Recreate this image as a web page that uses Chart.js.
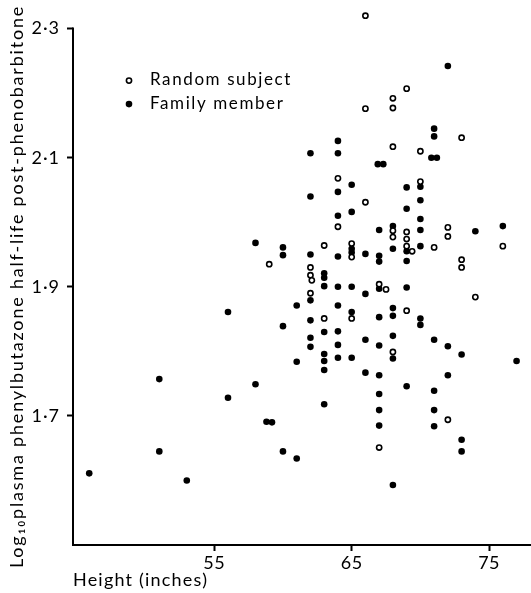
<!DOCTYPE html>
<html><head><meta charset="utf-8">
<script src="https://cdn.jsdelivr.net/npm/chart.js@4.4.1/dist/chart.umd.min.js"></script>
<style>html,body{margin:0;padding:0;background:#fff;}#wrap{width:531px;height:593px;}</style>
</head><body><div id="wrap"><canvas id="c" width="531" height="593"></canvas></div>
<script>
const X_TICKS = [55, 65, 75];
const X_TICK_LABELS = ['55', '65', '75'];
const Y_TICKS = [1.7, 1.9, 2.1, 2.3];
const Y_TICK_LABELS = ['1·7', '1·9', '2·1', '2·3'];
const X_TITLE = 'Height (inches)';
const Y_TITLE = 'Log₁₀plasma phenylbutazone half-life post-phenobarbitone';
const SERIES_NAMES = ['Random subject', 'Family member'];

// Random subjects (open circles)
const randomHeight = [59, 62, 62, 62.1, 62, 63, 63, 64, 64, 65, 65, 65, 66, 66, 66, 67, 67.5, 67,
  68, 68, 68, 68, 68, 68, 69, 69, 69, 69, 69.4, 69, 70, 70, 71, 72, 72, 72, 73, 73, 73, 74, 76];
const randomLogHalfLife = [1.935, 1.930, 1.918, 1.910, 1.890, 1.964, 1.851, 2.068, 1.993, 1.967, 1.946, 1.851, 2.320, 2.176, 2.031, 1.904, 1.896, 1.651,
  2.192, 2.177, 2.117, 1.987, 1.977, 1.799, 2.207, 1.985, 1.974, 1.963, 1.955, 1.863, 2.110, 2.063, 1.961, 1.992, 1.978, 1.694, 2.131, 1.942, 1.930, 1.884, 1.963];

// Family members (filled circles)
const familyHeight = [45.9, 51, 51, 53, 56, 56, 58, 58, 58.8, 59.2, 60, 60, 60, 60, 61, 61, 61,
  62, 62, 62, 62, 62, 62, 62,
  63, 63, 63, 63, 63, 63, 63, 63,
  64, 64, 64, 64, 64, 64, 64, 64, 64, 64,
  65, 65, 65, 65, 65, 65, 65,
  66, 66, 66, 66,
  66.9, 67.3, 67, 67, 67, 67, 67, 67, 67, 67, 67, 67,
  68, 68, 68, 68, 68, 68, 68,
  69, 69, 69, 69, 69, 69,
  70, 70, 70, 70, 70, 70, 70,
  71, 71, 70.8, 71.2, 71, 71, 71, 71,
  72, 72, 72,
  73, 73, 73,
  74, 76, 77];
const familyLogHalfLife = [1.611, 1.757, 1.645, 1.600, 1.861, 1.728, 1.968, 1.749, 1.691, 1.690, 1.961, 1.949, 1.839, 1.645, 1.871, 1.784, 1.634,
  2.107, 2.040, 1.950, 1.879, 1.848, 1.821, 1.807,
  1.921, 1.914, 1.901, 1.830, 1.796, 1.785, 1.771, 1.718,
  2.126, 2.107, 2.047, 2.010, 1.947, 1.900, 1.871, 1.831, 1.810, 1.790,
  2.058, 2.016, 1.959, 1.953, 1.900, 1.861, 1.790,
  1.951, 1.889, 1.818, 1.767,
  2.090, 2.090, 1.988, 1.948, 1.939, 1.897, 1.853, 1.809, 1.763, 1.734, 1.709, 1.685,
  1.994, 1.959, 1.867, 1.855, 1.824, 1.789, 1.593,
  2.054, 2.021, 1.955, 1.940, 1.899, 1.746,
  2.055, 2.034, 2.005, 1.988, 1.963, 1.851, 1.841,
  2.145, 2.133, 2.100, 2.100, 1.818, 1.739, 1.709, 1.684,
  2.242, 1.808, 1.763,
  1.795, 1.663, 1.645,
  1.986, 1.994, 1.785];

const FONT = 'Lato, "DejaVu Sans", sans-serif';
const toPts = (xs, ys) => xs.map((x, i) => ({x: x, y: ys[i]}));

// letter-spaced drawing for a scale's title and labels (title optionally shifted along the axis)
function spaceScale(s, titleSpacing, labelSpacing, titleShift) {
  if (s._spaced) return;
  s._spaced = true;
  const dt = s.drawTitle, dl = s.drawLabels;
  s.drawTitle = function () {
    const c = this.ctx; c.save(); c.letterSpacing = titleSpacing;
    c.translate(0, titleShift || 0);
    dt.apply(this, arguments); c.restore();
  };
  s.drawLabels = function () {
    const c = this.ctx; c.save(); c.letterSpacing = labelSpacing;
    dl.apply(this, arguments); c.restore();
  };
}

// y axis line runs from the top tick (2.3) to the bottom of the plot
const yAxisLine = {
  id: 'yAxisLine',
  afterDraw(chart) {
    const {ctx, chartArea, scales} = chart;
    const top = scales.y.getPixelForValue(Y_TICKS[Y_TICKS.length - 1]);
    ctx.save();
    ctx.strokeStyle = '#000';
    ctx.lineWidth = 2;
    ctx.beginPath();
    ctx.moveTo(chartArea.left, top - 1);
    ctx.lineTo(chartArea.left, chartArea.bottom + 1);
    ctx.stroke();
    ctx.restore();
  }
};

const legendPlugin = {
  id: 'insetLegend',
  afterDraw(chart) {
    const {ctx, chartArea, scales} = chart;
    const y0 = scales.y.getPixelForValue(Y_TICKS[Y_TICKS.length - 1]);
    ctx.save();
    ctx.letterSpacing = '1.6px';
    ctx.font = '17px ' + FONT;
    ctx.textBaseline = 'middle';
    ctx.textAlign = 'left';
    chart.data.datasets.forEach((ds, i) => {
      const mx = chartArea.left + 56, my = y0 + 52 + i * 23.5;
      ctx.beginPath();
      ctx.arc(mx, my, ds.pointRadius, 0, Math.PI * 2);
      ctx.fillStyle = ds.pointBackgroundColor;
      ctx.fill();
      if (ds.pointBorderWidth) {
        ctx.lineWidth = ds.pointBorderWidth;
        ctx.strokeStyle = ds.pointBorderColor;
        ctx.stroke();
      }
      ctx.fillStyle = '#000';
      ctx.fillText(ds.label, chartArea.left + 77, my - 1);
    });
    ctx.restore();
  }
};

new Chart(document.getElementById('c'), {
  type: 'scatter',
  data: {
    datasets: [
      {label: SERIES_NAMES[0], data: toPts(randomHeight, randomLogHalfLife),
       pointRadius: 2.6, pointBorderWidth: 1.6, pointBackgroundColor: '#fff', pointBorderColor: '#000'},
      {label: SERIES_NAMES[1], data: toPts(familyHeight, familyLogHalfLife),
       pointRadius: 3.3, pointBorderWidth: 0, pointBackgroundColor: '#000', pointBorderColor: '#000'}
    ]
  },
  options: {
    responsive: false,
    animation: false,
    events: [],
    layout: {autoPadding: false, padding: {top: 6, left: 0, right: 0, bottom: 0}},
    plugins: {legend: {display: false}, tooltip: {enabled: false}},
    scales: {
      x: {
        type: 'linear', min: 44.72, max: 78.05,
        afterFit(s) { s.height = 48; s.paddingLeft = 0; s.paddingRight = 0; spaceScale(s, '1.2px', '0.5px', 0); },
        afterBuildTicks(s) { s.ticks = X_TICKS.map(v => ({value: v})); },
        ticks: {color: '#000', font: {family: FONT, size: 18}, padding: 1, maxRotation: 0,
          callback: (v) => X_TICK_LABELS[X_TICKS.indexOf(v)] ?? ''},
        grid: {drawOnChartArea: false, drawTicks: true, tickLength: 6, tickWidth: 2, tickColor: '#000'},
        border: {display: true, color: '#000', width: 2},
        title: {display: true, text: X_TITLE, align: 'start', color: '#000',
          font: {family: FONT, size: 18}, padding: {top: 2, bottom: 2}}
      },
      y: {
        type: 'linear', min: 1.5, max: 2.335,
        afterFit(s) { s.width = 73; s.paddingTop = 0; s.paddingBottom = 0; spaceScale(s, '1.8px', '1px', 11); },
        afterBuildTicks(s) { s.ticks = Y_TICKS.map(v => ({value: v})); },
        ticks: {color: '#000', font: {family: FONT, size: 18}, padding: 7,
          callback: (v) => Y_TICK_LABELS[Y_TICKS.findIndex(t => Math.abs(t - v) < 1e-6)] ?? ''},
        grid: {drawOnChartArea: false, drawTicks: true, tickLength: 6, tickWidth: 2, tickColor: '#000'},
        border: {display: false},
        title: {display: true, text: Y_TITLE, color: '#000',
          font: {family: FONT, size: 18}, padding: {top: 6, bottom: 0}}
      }
    }
  },
  plugins: [yAxisLine, legendPlugin]
});
</script></body></html>
